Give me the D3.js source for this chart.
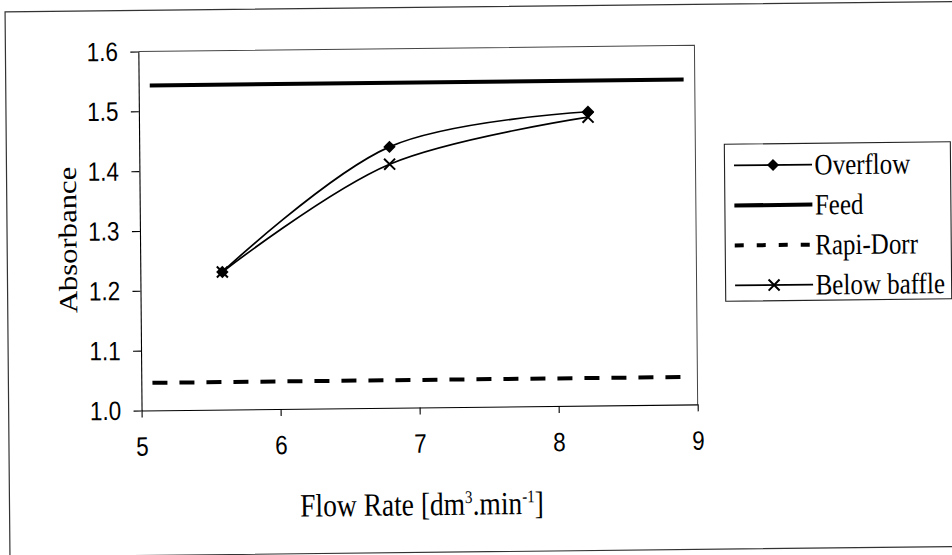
<!DOCTYPE html>
<html>
<head>
<meta charset="utf-8">
<script src="https://cdn.jsdelivr.net/npm/d3@7"></script>
<style>
  html, body { margin: 0; padding: 0; background: #fff; }
  svg { display: block; }
  .tick text { transform-box: fill-box; transform-origin: center; transform: scaleY(1.18); }
</style>
</head>
<body>
<svg id="chart" width="952" height="555"></svg>
<script>
// Absorbance versus flow rate
const flowRate     = [5.59, 6.80, 8.23];
const overflow     = [1.230, 1.436, 1.491];
const belowBaffle  = [1.230, 1.407, 1.482];
const levelX       = [5.08, 8.92];
const feed         = [1.543, 1.543];
const rapiDorr     = [1.046, 1.046];
const xTicks       = [5, 6, 7, 8, 9];
const yTicks       = [1.0, 1.1, 1.2, 1.3, 1.4, 1.5, 1.6];
const seriesNames  = ["Overflow", "Feed", "Rapi-Dorr", "Below baffle"];
const xTitle       = ["Flow Rate [dm", "3", ".min", "-1", "]"];
const yTitle       = "Absorbance";

const svg = d3.select("#chart");
const W = 952, H = 555;
const serif = "'Liberation Serif', 'Times New Roman', serif";
const sans  = "'Liberation Sans', Arial, sans-serif";
const stretch = 1.18;

// the whole sheet sits slightly skewed on the page
const root = svg.append("g")
  .attr("transform", `translate(${W/2},${H/2}) matrix(1,-0.011,0.009,1,0,0) translate(${-W/2},${-H/2})`);

// chart frame
root.append("rect")
  .attr("x", 7.5).attr("y", 6.8).attr("width", 1000).attr("height", 545)
  .attr("fill", "#fff").attr("stroke", "#333").attr("stroke-width", 1.2);

const x = d3.scaleLinear().domain([5, 9]).range([140.4, 696.5]);
const y = d3.scaleLinear().domain([1.0, 1.6]).range([406.8, 47.8]);

// plot area border (top and right)
root.append("path")
  .attr("d", `M${x(5)},${y(1.6)}H${x(9)}V${y(1.0)}`)
  .attr("fill", "none").attr("stroke", "#444").attr("stroke-width", 1);

// axes
const xAxis = root.append("g")
  .attr("transform", `translate(0,${y(1.0)})`)
  .call(d3.axisBottom(x).tickValues(xTicks).tickFormat(d3.format("d")).tickSize(7).tickSizeOuter(0));
xAxis.selectAll("text").attr("y", 36).attr("dy", "0.35em");

const yAxis = root.append("g")
  .attr("transform", `translate(${x(5)},0)`)
  .call(d3.axisLeft(y).tickValues(yTicks).tickFormat(d3.format(".1f")).tickSize(8).tickSizeOuter(0));
yAxis.selectAll("text").attr("x", -20.4).attr("dy", "0.32em");

[xAxis, yAxis].forEach(a => {
  a.selectAll("path, line").attr("stroke", "#000").attr("stroke-width", 1.1);
  a.selectAll("text").attr("fill", "#000").style("font-family", sans).style("font-size", "22.5px");
});

// axis titles
const yt = root.append("g")
  .attr("transform", `translate(68.3,235.5) rotate(-90) scale(${stretch},1)`);
yt.append("text")
  .attr("text-anchor", "middle").attr("dy", "0.33em")
  .style("font-family", serif).style("font-size", "26px")
  .text(yTitle);

const supShift = 10;
const xt = root.append("g")
  .attr("transform", `translate(420,514.6) scale(1,${stretch})`)
  .append("text")
  .attr("text-anchor", "middle")
  .style("font-family", serif).style("font-size", "27.5px");
xt.append("tspan").text(xTitle[0]);
xt.append("tspan").attr("dy", -supShift).style("font-size", "15px").text(xTitle[1]);
xt.append("tspan").attr("dy", supShift).text(xTitle[2]);
xt.append("tspan").attr("dy", -supShift).style("font-size", "15px").text(xTitle[3]);
xt.append("tspan").attr("dy", supShift).text(xTitle[4]);

// series
const smooth = d3.line().curve(d3.curveCatmullRom.alpha(0)).x(d => x(d[0])).y(d => y(d[1]));
const straight = d3.line().x(d => x(d[0])).y(d => y(d[1]));

root.append("path")
  .datum(levelX.map((v, i) => [v, feed[i]]))
  .attr("d", straight).attr("fill", "none").attr("stroke", "#000").attr("stroke-width", 4);

root.append("path")
  .datum(levelX.map((v, i) => [v, rapiDorr[i]]))
  .attr("d", straight).attr("fill", "none").attr("stroke", "#000").attr("stroke-width", 4)
  .attr("stroke-dasharray", "15,12");

const overPts = flowRate.map((v, i) => [v, overflow[i]]);
const belowPts = flowRate.map((v, i) => [v, belowBaffle[i]]);

root.append("path").datum(overPts).attr("d", smooth)
  .attr("fill", "none").attr("stroke", "#000").attr("stroke-width", 1.7);
root.append("path").datum(belowPts).attr("d", smooth)
  .attr("fill", "none").attr("stroke", "#000").attr("stroke-width", 1.7);

function diamond(g, cx, cy, r) {
  g.append("path")
    .attr("d", `M${cx},${cy - r}L${cx + r},${cy}L${cx},${cy + r}L${cx - r},${cy}Z`)
    .attr("fill", "#000");
}
function cross(g, cx, cy, r) {
  g.append("path")
    .attr("d", `M${cx - r},${cy - r}L${cx + r},${cy + r}M${cx - r},${cy + r}L${cx + r},${cy - r}`)
    .attr("stroke", "#000").attr("stroke-width", 2).attr("fill", "none");
}

const marks = root.append("g");
overPts.forEach(p => diamond(marks, x(p[0]), y(p[1]), 6.2));
belowPts.forEach(p => cross(marks, x(p[0]), y(p[1]), 5.5));

// legend
const lg = root.append("g");
lg.append("rect")
  .attr("x", 725.5).attr("y", 147).attr("width", 226).attr("height", 157)
  .attr("fill", "#fff").attr("stroke", "#222").attr("stroke-width", 1.1);

const rowY = [168.3, 208.3, 248.3, 288.3];
const lx0 = 735, lx1 = 813, lmid = 774;
seriesNames.forEach((name, i) => {
  const ry = rowY[i];
  const ln = lg.append("line")
    .attr("x1", lx0).attr("x2", lx1).attr("y1", ry).attr("y2", ry)
    .attr("stroke", "#000");
  if (i === 0) { ln.attr("stroke-width", 1.7); diamond(lg, lmid, ry, 6); }
  if (i === 1) { ln.attr("stroke-width", 4); }
  if (i === 2) { ln.attr("stroke-width", 4).attr("stroke-dasharray", "9,13"); }
  if (i === 3) { ln.attr("stroke-width", 1.7); cross(lg, lmid, ry, 5.5); }
  lg.append("g")
    .attr("transform", `translate(815.5,${ry}) scale(1,${stretch})`)
    .append("text")
    .attr("dy", "0.335em")
    .style("font-family", serif).style("font-size", "25px")
    .text(name);
});
</script>
</body>
</html>
